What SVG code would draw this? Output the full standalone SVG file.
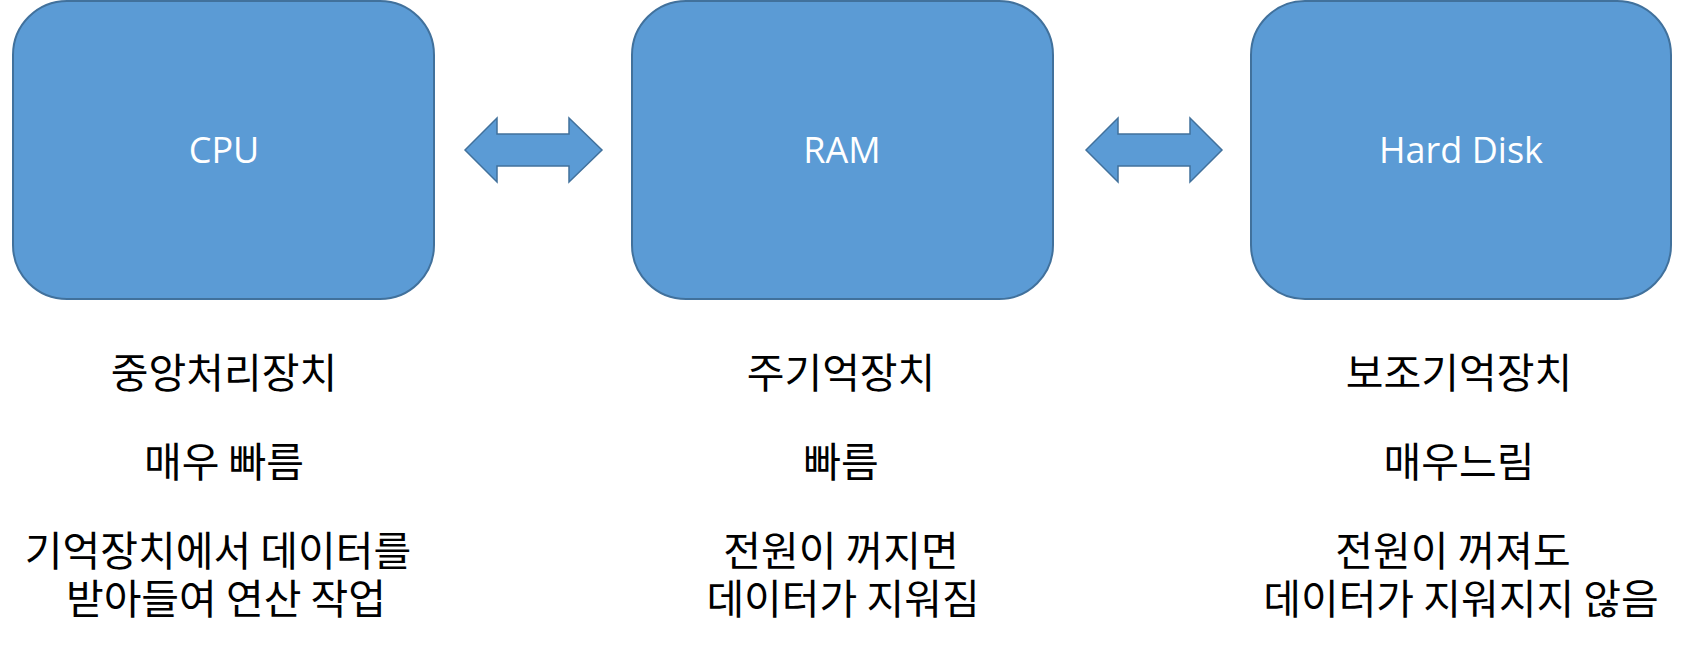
<svg xmlns="http://www.w3.org/2000/svg" width="1685" height="645" viewBox="0 0 1685 645">
<style>
.box{fill:#5B9BD5;stroke:#41719C;stroke-width:2}
.arr{fill:#5B9BD5;stroke:#41719C;stroke-width:1.5;stroke-linejoin:miter}
.lbl{font-family:"Open Sans","Noto Sans",sans-serif;font-size:36px;fill:#FFFFFF;text-anchor:middle}
.ko{font-family:"Noto Sans CJK KR","Noto Sans",sans-serif;font-size:41px;fill:#000000;text-anchor:middle}
</style>
<rect width="1685" height="645" fill="#FFFFFF"/>
<g id="cpu">
<rect class="box" x="13" y="1" width="421" height="298" rx="54" ry="54"/>
<text class="lbl" x="224" y="163">CPU</text>
</g>
<g id="ram">
<rect class="box" x="632" y="1" width="421" height="298" rx="54" ry="54"/>
<text class="lbl" x="842" y="163">RAM</text>
</g>
<g id="hdd">
<rect class="box" x="1251" y="1" width="420" height="298" rx="54" ry="54"/>
<text class="lbl" x="1461" y="163">Hard Disk</text>
</g>
<g id="connectors">
<polygon class="arr" points="465,150 497,118 497,134 569,134 569,118 602,150 569,182 569,166 497,166 497,182"/>
<polygon class="arr" points="1086,150 1118,118 1118,134 1190,134 1190,118 1222,150 1190,182 1190,166 1118,166 1118,182"/>
</g>
<g id="cpu-desc">
<text class="ko" x="224" y="388">중앙처리장치</text>
<text class="ko" x="224" y="477">매우 빠름</text>
<text class="ko"><tspan x="218" y="566">기억장치에서 데이터를</tspan><tspan x="226" y="614">받아들여 연산 작업</tspan></text>
</g>
<g id="ram-desc">
<text class="ko" x="841" y="388">주기억장치</text>
<text class="ko" x="841" y="477">빠름</text>
<text class="ko"><tspan x="841" y="566">전원이 꺼지면</tspan><tspan x="843" y="614">데이터가 지워짐</tspan></text>
</g>
<g id="hdd-desc">
<text class="ko" x="1459" y="388">보조기억장치</text>
<text class="ko" x="1459" y="477">매우느림</text>
<text class="ko"><tspan x="1453" y="566">전원이 꺼져도</tspan><tspan x="1461" y="614">데이터가 지워지지 않음</tspan></text>
</g>
</svg>
